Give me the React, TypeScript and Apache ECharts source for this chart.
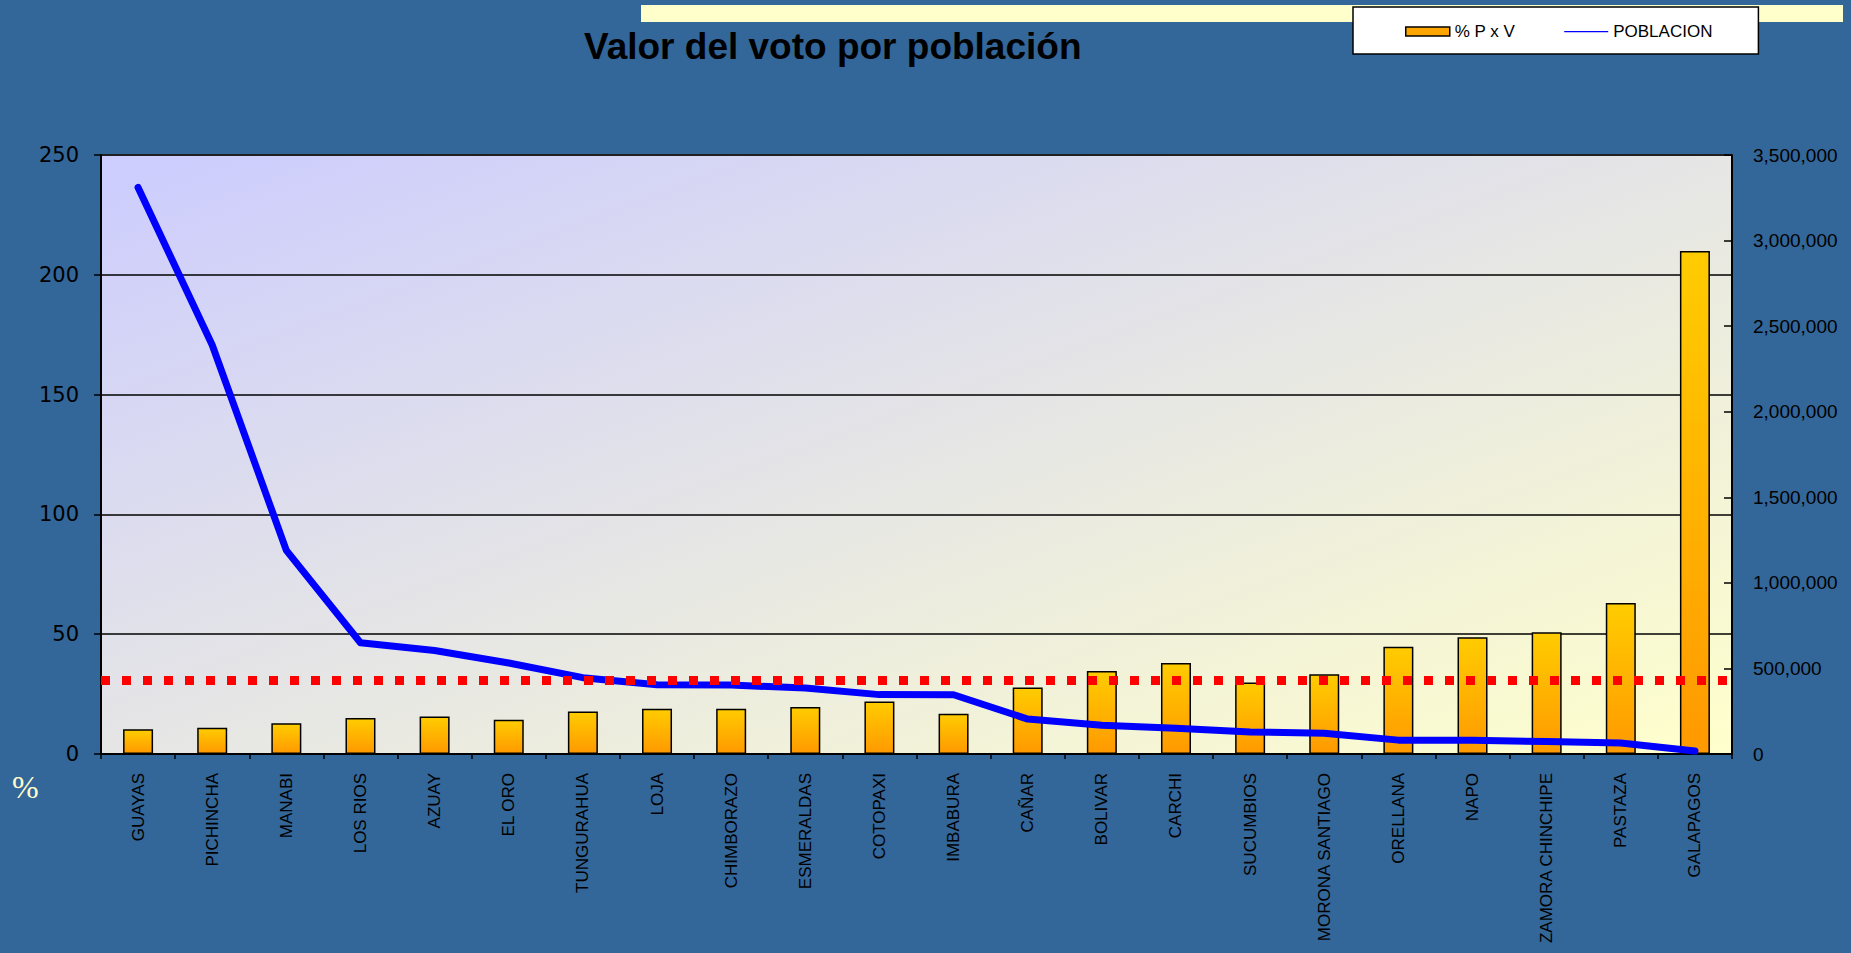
import React, { useEffect, useRef } from "react";
import * as echarts from "echarts";

const provincias = [
  "GUAYAS", "PICHINCHA", "MANABI", "LOS RIOS", "AZUAY", "EL ORO", "TUNGURAHUA", "LOJA",
  "CHIMBORAZO", "ESMERALDAS", "COTOPAXI", "IMBABURA", "CAÑAR", "BOLIVAR", "CARCHI",
  "SUCUMBIOS", "MORONA SANTIAGO", "ORELLANA", "NAPO", "ZAMORA CHINCHIPE", "PASTAZA", "GALAPAGOS",
];
const pxv = [10.3, 11.0, 12.8, 15.0, 15.6, 14.3, 17.7, 18.9, 18.9, 19.6, 21.9, 16.8, 27.8, 34.6, 38.0, 29.8, 33.3, 44.8, 48.7, 50.8, 63.0, 209.9];
const poblacion = [3310000, 2390000, 1190000, 650000, 605000, 532000, 446000, 404000, 403000, 385000, 347000, 346000, 204000, 168000, 150000, 129000, 121000, 81000, 80000, 73000, 64000, 17000];
const promedio = 30.8;
const leftAxis = { min: 0, max: 250, interval: 50 };
const rightAxis = { min: 0, max: 3500000, interval: 500000 };
const titulo = "Valor del voto por población";
const nombreBarras = "% P x V";
const nombreLinea = "POBLACION";

const SANS = "Liberation Sans, Arial, Helvetica, sans-serif";

export default function App() {
  const ref = useRef<HTMLDivElement>(null);
  useEffect(() => {
    if (!ref.current) return;
    const chart = echarts.init(ref.current, undefined, { renderer: "svg" });
    chart.setOption({
      animation: false,
      backgroundColor: "#336699",
      title: {
        text: titulo,
        left: 584,
        top: 28,
        padding: 0,
        textStyle: { fontFamily: SANS, fontSize: 37, fontWeight: "bold", color: "#000" },
      },
      legend: {
        left: 1353,
        top: 7,
        padding: [16, 46, 14, 52],
        itemGap: 49,
        itemWidth: 44,
        itemHeight: 9,
        backgroundColor: "#FFFFFF",
        borderColor: "#000",
        borderWidth: 1.5,
        textStyle: { fontFamily: SANS, fontSize: 17, color: "#000" },
        data: [
          { name: nombreBarras, icon: "rect", itemStyle: { color: "#FFA500", borderColor: "#000", borderWidth: 1.5 } },
          {
            name: nombreLinea,
            icon: "path://M0,0 L0,9 M0,4 L44,4 L44,5.2 L0,5.2 Z",
            itemStyle: { color: "#0000FF", borderWidth: 0 },
          },
        ],
      },
      graphic: [
        { type: "rect", left: 641, top: 5, shape: { width: 1202, height: 17 }, style: { fill: "#FFFFCC" }, z: -1 },
        {
          type: "text",
          left: 12,
          top: 771,
          style: { text: "%", font: "32px 'Liberation Serif', 'Times New Roman', serif", fill: "#FFFFCC" },
        },
      ],
      grid: {
        left: 101,
        right: 119,
        top: 155,
        bottom: 199,
        show: true,
        backgroundColor: new echarts.graphic.LinearGradient(0, 0, 1, 1, [
          { offset: 0, color: "#CCCCFF" },
          { offset: 1, color: "#FFFFCC" },
        ]),
        borderColor: "#808080",
        borderWidth: 2,
      },
      xAxis: {
        type: "category",
        data: provincias,
        axisLine: { lineStyle: { color: "#000", width: 2 } },
        axisTick: { show: true, length: 5, lineStyle: { color: "#000", width: 1.5 } },
        axisLabel: { interval: 0, rotate: 90, margin: 19, fontFamily: SANS, fontSize: 17, color: "#000" },
      },
      yAxis: [
        {
          type: "value",
          ...leftAxis,
          axisLine: { show: true, lineStyle: { color: "#000", width: 2 } },
          axisTick: { show: true, length: 7, lineStyle: { color: "#000", width: 1.5 } },
          axisLabel: { margin: 22, fontFamily: "DejaVu Sans, sans-serif", fontSize: 21, color: "#000" },
          splitLine: { show: true, lineStyle: { color: "#000", width: 1.5 } },
        },
        {
          type: "value",
          ...rightAxis,
          position: "right",
          axisLine: { show: true, lineStyle: { color: "#000", width: 2 } },
          axisTick: { show: true, inside: true, length: 8, lineStyle: { color: "#000", width: 1.5 } },
          axisLabel: {
            margin: 21,
            fontFamily: SANS,
            fontSize: 19,
            color: "#000",
            formatter: (v: number) => v.toLocaleString("en-US"),
          },
          splitLine: { show: false },
        },
      ],
      series: [
        {
          name: nombreBarras,
          type: "bar",
          data: pxv,
          barWidth: 30,
          itemStyle: {
            color: new echarts.graphic.LinearGradient(0, 0, 0, 1, [
              { offset: 0, color: "#FFCC00" },
              { offset: 1, color: "#FF9900" },
            ]),
            borderColor: "#000",
            borderWidth: 1.5,
          },
          markLine: {
            silent: true,
            symbol: ["none", "none"],
            label: { show: false },
            lineStyle: { color: "#FF0000", width: 9, type: [9, 12] },
            data: [{ yAxis: promedio }],
            z: 5,
          },
        },
        {
          name: nombreLinea,
          type: "line",
          yAxisIndex: 1,
          data: poblacion,
          symbol: "none",
          lineStyle: { color: "#0000FF", width: 7, cap: "round", join: "round" },
          itemStyle: { color: "#0000FF" },
          z: 4,
        },
      ],
    });
    return () => chart.dispose();
  }, []);
  return <div ref={ref} style={{ position: "fixed", left: 0, top: 0, width: 1851, height: 953 }} />;
}
